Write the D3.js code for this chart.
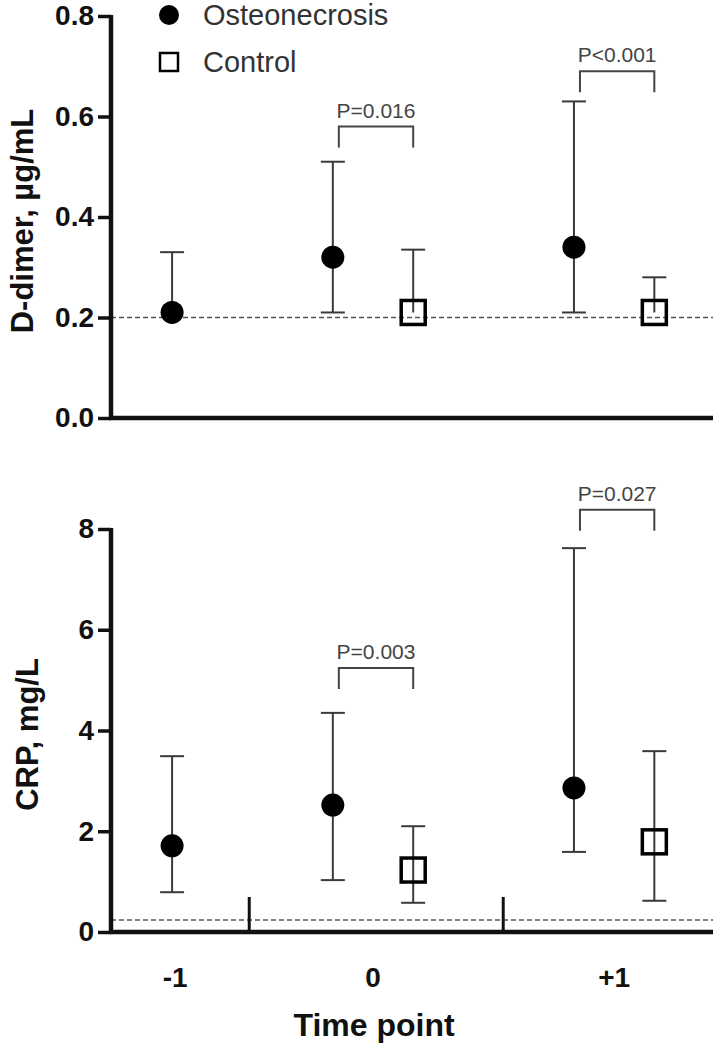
<!DOCTYPE html>
<html>
<head>
<meta charset="utf-8">
<script src="https://cdn.jsdelivr.net/npm/d3@7"></script>
<style>
  html, body { margin: 0; padding: 0; background: #fff; }
  svg { display: block; font-family: "Liberation Sans", Arial, Helvetica, sans-serif; }
</style>
</head>
<body>
<svg id="chart" width="718" height="1050"></svg>
<script>
// ---------------- data ----------------
const timePoints   = ["-1", "0", "+1"];
const seriesNames  = ["Osteonecrosis", "Control"];
// horizontal slot of each marker (osteonecrosis / control) for each time point
const osteoSlot    = [0, 2, 5];
const controlSlot  = [null, 3, 6];
const dividerSlots = [0.96, 4.12];

// D-dimer, µg/mL (median, lower, upper)
const ddimerOsteo    = [0.21, 0.32, 0.34];
const ddimerOsteoLo  = [0.21, 0.21, 0.21];
const ddimerOsteoHi  = [0.33, 0.51, 0.63];
const ddimerCtrl     = [null, 0.21, 0.21];
const ddimerCtrlLo   = [null, 0.21, 0.21];
const ddimerCtrlHi   = [null, 0.335, 0.28];
const ddimerRef      = 0.2;
const ddimerTicks    = [0, 0.2, 0.4, 0.6, 0.8];
const ddimerPLabels  = [null, "P=0.016", "P<0.001"];
const ddimerPLevel   = [null, 0.58, 0.69];

// CRP, mg/L
const crpOsteo    = [1.71, 2.52, 2.86];
const crpOsteoLo  = [0.79, 1.03, 1.59];
const crpOsteoHi  = [3.49, 4.35, 7.62];
const crpCtrl     = [null, 1.23, 1.79];
const crpCtrlLo   = [null, 0.58, 0.62];
const crpCtrlHi   = [null, 2.10, 3.59];
const crpRef      = 0.24;
const crpTicks    = [0, 2, 4, 6, 8];
const crpPLabels  = [null, "P=0.003", "P=0.027"];
const crpPLevel   = [null, 5.24, 8.38];

// ---------------- layout ----------------
const svg = d3.select("#chart");
const x = d3.scaleLinear().domain([-0.76, 6.73]).range([111, 713]);

const panels = [
  { y: d3.scaleLinear().domain([0, 0.8]).range([418, 16]), ticks: ddimerTicks, fmt: d3.format(".1f"),
    label: "D-dimer, µg/mL", labelX: 33, ref: ddimerRef,
    o: ddimerOsteo, oLo: ddimerOsteoLo, oHi: ddimerOsteoHi,
    c: ddimerCtrl, cLo: ddimerCtrlLo, cHi: ddimerCtrlHi,
    pl: ddimerPLabels, pv: ddimerPLevel, dividers: false },
  { y: d3.scaleLinear().domain([0, 8]).range([932, 529]), ticks: crpTicks, fmt: d3.format("d"),
    label: "CRP, mg/L", labelX: 38, ref: crpRef,
    o: crpOsteo, oLo: crpOsteoLo, oHi: crpOsteoHi,
    c: crpCtrl, cLo: crpCtrlLo, cHi: crpCtrlHi,
    pl: crpPLabels, pv: crpPLevel, dividers: true }
];

const ink = "#111";
const barInk = "#3a3a3a";

panels.forEach(p => {
  const g = svg.append("g");
  const y = p.y;
  const y0 = y.range()[0], y1 = y.range()[1];

  // reference dashed line
  g.append("line")
    .attr("x1", x.range()[0]).attr("x2", x.range()[1])
    .attr("y1", y(p.ref)).attr("y2", y(p.ref))
    .attr("stroke", "#555").attr("stroke-width", 1.5)
    .attr("stroke-dasharray", "5,3");

  // y axis
  const ya = g.append("g")
    .attr("transform", `translate(${x.range()[0]},0)`)
    .call(d3.axisLeft(y).tickValues(p.ticks).tickFormat(p.fmt).tickSize(13).tickSizeOuter(0).tickPadding(4));
  ya.select(".domain").remove();
  ya.selectAll(".tick line").attr("stroke", ink).attr("stroke-width", 3.5);
  ya.selectAll(".tick text").attr("fill", ink).attr("font-size", 28).attr("font-weight", "bold")
    .attr("font-family", "'Liberation Sans', Arial, sans-serif");
  g.append("line").attr("x1", x.range()[0]).attr("x2", x.range()[0])
    .attr("y1", y1 - 1).attr("y2", y0 + 2)
    .attr("stroke", ink).attr("stroke-width", 4.5);

  // x axis baseline
  g.append("line").attr("x1", x.range()[0] - 2).attr("x2", x.range()[1])
    .attr("y1", y0).attr("y2", y0)
    .attr("stroke", ink).attr("stroke-width", 4.5);

  if (p.dividers) {
    dividerSlots.forEach(s => {
      g.append("line").attr("x1", x(s)).attr("x2", x(s))
        .attr("y1", y0 - 35).attr("y2", y0)
        .attr("stroke", ink).attr("stroke-width", 3);
    });
  }

  // axis title
  g.append("text")
    .attr("transform", `translate(${p.labelX},${(y0 + y1) / 2 + 4}) rotate(-90)`)
    .attr("text-anchor", "middle")
    .attr("font-size", 31).attr("font-weight", "bold").attr("fill", ink)
    .text(p.label);

  // error bars
  function errBar(slot, v, lo, hi) {
    const cx = x(slot);
    g.append("line").attr("x1", cx).attr("x2", cx).attr("y1", y(hi)).attr("y2", y(lo))
      .attr("stroke", barInk).attr("stroke-width", 2);
    g.append("line").attr("x1", cx - 12).attr("x2", cx + 12).attr("y1", y(hi)).attr("y2", y(hi))
      .attr("stroke", barInk).attr("stroke-width", 2);
    if (lo < v) {
      g.append("line").attr("x1", cx - 12).attr("x2", cx + 12).attr("y1", y(lo)).attr("y2", y(lo))
        .attr("stroke", barInk).attr("stroke-width", 2);
    }
  }

  timePoints.forEach((t, i) => {
    errBar(osteoSlot[i], p.o[i], p.oLo[i], p.oHi[i]);
    if (p.c[i] != null) errBar(controlSlot[i], p.c[i], p.cLo[i], p.cHi[i]);
  });

  // markers
  timePoints.forEach((t, i) => {
    g.append("circle").attr("cx", x(osteoSlot[i])).attr("cy", y(p.o[i])).attr("r", 11.5)
      .attr("fill", "#000");
    if (p.c[i] != null) {
      g.append("rect").attr("x", x(controlSlot[i]) - 12).attr("y", y(p.c[i]) - 12)
        .attr("width", 24).attr("height", 24)
        .attr("fill", "none").attr("stroke", "#000").attr("stroke-width", 3.5);
    }
  });

  // significance brackets
  timePoints.forEach((t, i) => {
    if (!p.pl[i]) return;
    const xa = x(osteoSlot[i]) + 6, xb = x(controlSlot[i]);
    const yt = y(p.pv[i]);
    g.append("path")
      .attr("d", `M${xa},${yt + 21}V${yt}H${xb}V${yt + 21}`)
      .attr("fill", "none").attr("stroke", "#444").attr("stroke-width", 2);
    g.append("text").attr("x", (xa + xb) / 2).attr("y", yt - 9)
      .attr("text-anchor", "middle").attr("font-size", 21).attr("fill", "#444")
      .text(p.pl[i]);
  });
});

// x tick labels (bottom panel only)
const yb = panels[1].y.range()[0];
timePoints.forEach((t, i) => {
  const slots = [osteoSlot[i], controlSlot[i]].filter(s => s != null);
  svg.append("text").attr("x", x(d3.mean(slots)) + (i === 0 ? 3 : 0)).attr("y", yb + 55)
    .attr("text-anchor", "middle").attr("font-size", 28).attr("font-weight", "bold").attr("fill", ink)
    .text(t);
});
svg.append("text").attr("x", 374).attr("y", 1036)
  .attr("text-anchor", "middle").attr("font-size", 32).attr("font-weight", "bold").attr("fill", ink)
  .text("Time point");

// legend
const legend = svg.append("g");
legend.append("circle").attr("cx", 169).attr("cy", 15).attr("r", 10).attr("fill", "#000");
legend.append("rect").attr("x", 160).attr("y", 53).attr("width", 18).attr("height", 18)
  .attr("fill", "none").attr("stroke", "#000").attr("stroke-width", 2.5);
legend.selectAll("text.leg").data(seriesNames).join("text").attr("class", "leg")
  .attr("x", 203).attr("y", (d, i) => 25 + i * 47)
  .attr("font-size", 29).attr("fill", "#333").text(d => d);
</script>
</body>
</html>
